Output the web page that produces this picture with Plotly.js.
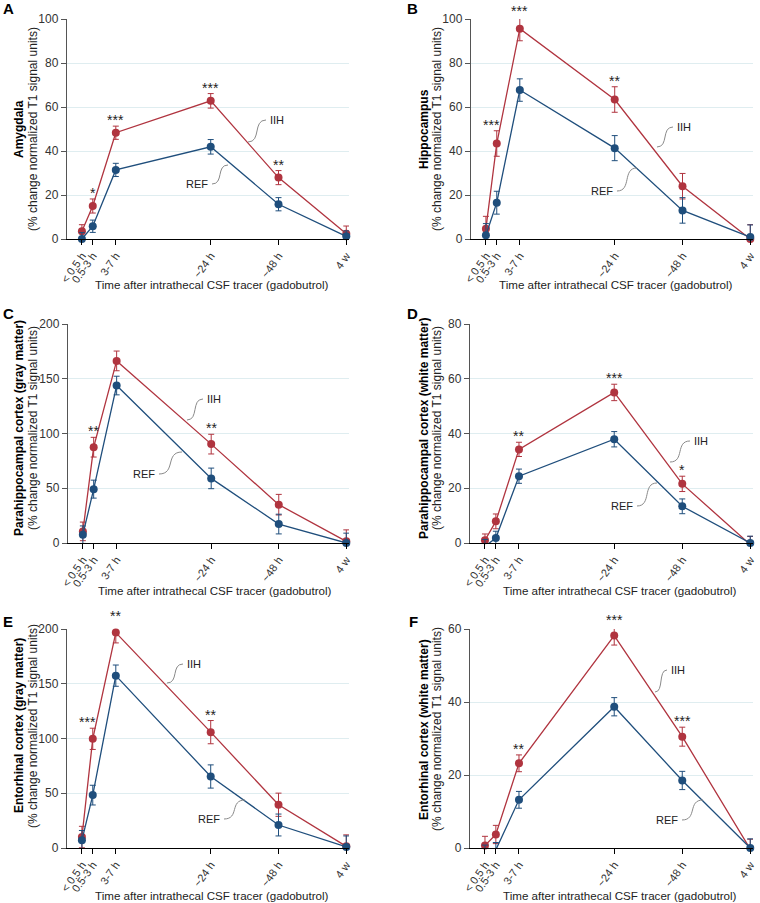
<!DOCTYPE html>
<html><head><meta charset="utf-8">
<script src="https://cdn.plot.ly/plotly-3.0.1.min.js"></script>
<style>html,body{margin:0;padding:0;background:#fff}#chart{width:760px;height:903px}</style>
</head><body><div id="chart"></div>
<script>
// ---- data ----
const timeLabels = ["< 0.5 h", "0.5-3 h", "3-7 h", "~24 h", "~48 h", "4 w"];
const timePos = [0, 0.16, 0.5, 1.9, 2.9, 3.9];
const xTitle = "Time after intrathecal CSF tracer (gadobutrol)";
const ySubTitle = "(% change normalized T1 signal units)";

const amygdalaIIH = [3.5, 15, 48.3, 62.8, 27.9, 2.4];
const amygdalaIIHErr = [3, 3.2, 3, 3.3, 3.2, 3.5];
const amygdalaREF = [0, 5.8, 31.4, 41.9, 15.8, 1.2];
const amygdalaREFErr = [2.9, 2.8, 3, 3.3, 3, 2.5];
const amygdalaStars = ["", "*", "***", "***", "**", ""];

const hippocampusIIH = [4.7, 43.4, 95.6, 63.4, 24, 0];
const hippocampusIIHErr = [5.6, 5.8, 5.5, 5.8, 5.8, 6.5];
const hippocampusREF = [1.7, 16.5, 67.7, 41.3, 13, 0.9];
const hippocampusREFErr = [5.3, 5.2, 5.1, 5.7, 5.8, 5.5];
const hippocampusStars = ["", "***", "***", "**", "", ""];

const phcGrayIIH = [10.6, 87.5, 166.3, 90.3, 35, 1.5];
const phcGrayIIHErr = [8.5, 9, 9, 9, 9.4, 10.5];
const phcGrayREF = [7.6, 49.2, 143.8, 59, 17.3, 0];
const phcGrayREFErr = [8, 8.2, 8.5, 9.4, 9, 9];
const phcGrayStars = ["", "**", "", "**", "", ""];

const phcWhiteIIH = [1, 7.9, 34.2, 55, 21.6, -0.6];
const phcWhiteIIHErr = [2.3, 2.7, 2.6, 3, 2.8, 3];
const phcWhiteREF = [-1.2, 1.8, 24.4, 37.9, 13.4, 0];
const phcWhiteREFErr = [2.5, 2.5, 2.6, 2.8, 2.7, 2.5];
const phcWhiteStars = ["", "", "**", "***", "*", ""];

const ercGrayIIH = [10, 99.7, 196.7, 105.8, 39.5, 1.5];
const ercGrayIIHErr = [9.8, 9.7, 9.4, 10.6, 10.6, 10.5];
const ercGrayREF = [7, 48.3, 157.4, 65.3, 21, 1];
const ercGrayREFErr = [9, 9, 9.7, 10.6, 10, 10];
const ercGrayStars = ["", "***", "**", "**", "", ""];

const ercWhiteIIH = [0.7, 3.7, 23.2, 58.2, 30.5, -0.3];
const ercWhiteIIHErr = [2.5, 2.5, 2.3, 2.6, 2.6, 2.7];
const ercWhiteREF = [-1.4, -0.5, 13.2, 38.7, 18.5, 0];
const ercWhiteREFErr = [2.2, 2, 2.3, 2.5, 2.5, 2.5];
const ercWhiteStars = ["", "", "**", "***", "***", ""];

// ---- layout config (pixels of the 760x903 page) ----
const W = 760, H = 903;
const px = x => x / W;
const py = y => 1 - y / H;
const RED = "#b0343f", BLUE = "#1f4e7c";
const XRANGE = [-0.22, 3.94];

const panels = [
  {letter: "A", name: "Amygdala", iih: amygdalaIIH, iihErr: amygdalaIIHErr, ref: amygdalaREF, refErr: amygdalaREFErr, stars: amygdalaStars,
   ymax: 100, dtick: 20, x0: 67, x1: 349, top: 19, bot: 239, letterXY: [8, 9], titleX: [19, 33], titleY: 129, xTitleXY: [212, 285],
   iihS: [248, 142], iihE: [266, 120], refS: [228, 165], refE: [212, 184]},
  {letter: "B", name: "Hippocampus", iih: hippocampusIIH, iihErr: hippocampusIIHErr, ref: hippocampusREF, refErr: hippocampusREFErr, stars: hippocampusStars,
   ymax: 100, dtick: 20, x0: 471, x1: 753, top: 19, bot: 239, letterXY: [412, 9], titleX: [424, 437], titleY: 129, xTitleXY: [616, 285],
   iihS: [657, 147], iihE: [673, 127], refS: [637, 168], refE: [617, 191]},
  {letter: "C", name: "Parahippocampal cortex (gray matter)", iih: phcGrayIIH, iihErr: phcGrayIIHErr, ref: phcGrayREF, refErr: phcGrayREFErr, stars: phcGrayStars,
   ymax: 200, dtick: 50, x0: 68, x1: 349, top: 324, bot: 543, letterXY: [8, 313], titleX: [19, 33], titleY: 428, xTitleXY: [215, 590],
   iihS: [187, 420], iihE: [203, 399], refS: [182, 452], refE: [159, 474]},
  {letter: "D", name: "Parahippocampal cortex (white matter)", iih: phcWhiteIIH, iihErr: phcWhiteIIHErr, ref: phcWhiteREF, refErr: phcWhiteREFErr, stars: phcWhiteStars,
   ymax: 80, dtick: 20, x0: 470, x1: 753, top: 324, bot: 543, letterXY: [412, 313], titleX: [424, 437], titleY: 428, xTitleXY: [620, 590],
   iihS: [670, 462], iihE: [690, 441], refS: [657, 483], refE: [637, 506]},
  {letter: "E", name: "Entorhinal cortex (gray matter)", iih: ercGrayIIH, iihErr: ercGrayIIHErr, ref: ercGrayREF, refErr: ercGrayREFErr, stars: ercGrayStars,
   ymax: 200, dtick: 50, x0: 67, x1: 349, top: 629, bot: 848, letterXY: [8, 621], titleX: [19, 33], titleY: 726, xTitleXY: [212, 895],
   iihS: [167, 683], iihE: [183, 664], refS: [245, 800], refE: [224, 819]},
  {letter: "F", name: "Entorhinal cortex (white matter)", iih: ercWhiteIIH, iihErr: ercWhiteIIHErr, ref: ercWhiteREF, refErr: ercWhiteREFErr, stars: ercWhiteStars,
   ymax: 60, dtick: 20, x0: 470, x1: 753, top: 629, bot: 848, letterXY: [413, 621], titleX: [424, 437], titleY: 729, xTitleXY: [620, 895],
   iihS: [655, 692], iihE: [667, 670], refS: [703, 800], refE: [682, 820]}
];

const FONT = "Liberation Sans, Arial, Helvetica, sans-serif";
const data = [];
const annotations = [];
const shapes = [];
const layout = {
  width: W, height: H,
  margin: {l: 0, r: 0, t: 0, b: 0},
  paper_bgcolor: "#fff", plot_bgcolor: "#fff",
  showlegend: false,
  font: {family: FONT, size: 12, color: "#333"},
  annotations: annotations, shapes: shapes
};

function squiggle(s, e) {
  const sign = e[0] >= s[0] ? 1 : -1;
  const k = Math.abs(e[0] - s[0]) * 0.75;
  const P = p => px(p[0]).toFixed(5) + "," + py(p[1]).toFixed(5);
  return "M" + P(s) + " C" + P([s[0] + sign * k, s[1]]) + " " + P([e[0] - sign * k, e[1]]) + " " + P(e);
}

panels.forEach((p, i) => {
  const n = i + 1;
  const xa = "x" + (n === 1 ? "" : n), ya = "y" + (n === 1 ? "" : n);
  const xk = "xaxis" + (n === 1 ? "" : n), yk = "yaxis" + (n === 1 ? "" : n);
  const xd = [px(p.x0), px(p.x1)], yd = [py(p.bot), py(p.top)];
  layout[xk] = {
    domain: xd, anchor: ya, range: XRANGE,
    tickmode: "array", tickvals: timePos, ticktext: timeLabels, tickangle: -55,
    ticks: "outside", ticklen: 5, tickwidth: 1, tickcolor: "#000",
    showline: true, linecolor: "#000", linewidth: 1.2,
    showgrid: false, zeroline: false,
    tickfont: {family: FONT, size: 11, color: "#333"}
  };
  layout[yk] = {
    domain: yd, anchor: xa, range: [0, p.ymax], dtick: p.dtick,
    ticks: "outside", ticklen: 5, tickwidth: 1, tickcolor: "#555",
    showline: true, linecolor: "#555", linewidth: 1.2,
    showgrid: true, gridcolor: "#dfedf0", gridwidth: 1, zeroline: false,
    tickfont: {family: FONT, size: 12, color: "#333"}
  };
  [["IIH", p.iih, p.iihErr, RED], ["REF", p.ref, p.refErr, BLUE]].forEach(([nm, y, err, c]) => {
    data.push({
      type: "scatter", mode: "lines+markers", name: nm, x: timePos, y: y,
      xaxis: xa, yaxis: ya, cliponaxis: false,
      line: {color: c, width: 1.3},
      marker: {color: c, size: 8},
      error_y: {type: "data", array: err, visible: true, color: c, thickness: 1, width: 3}
    });
  });
  // significance stars above IIH error bars (placed in the subplot's own frame)
  const toPx = v => xd[0] + (v - XRANGE[0]) / (XRANGE[1] - XRANGE[0]) * (xd[1] - xd[0]);
  const toPy = v => yd[0] + v / p.ymax * (yd[1] - yd[0]);
  p.stars.forEach((s, j) => {
    if (!s) return;
    annotations.push({
      xref: "paper", yref: "paper", x: toPx(timePos[j]), y: toPy(p.iih[j] + p.iihErr[j]),
      text: s, showarrow: false, yanchor: "bottom", xanchor: "center",
      yshift: -4, xshift: (j === 1 && s.length === 3) ? -5 : 0,
      font: {family: FONT, size: 14, color: "#222"}
    });
  });
  // panel letter
  annotations.push({xref: "paper", yref: "paper", x: px(p.letterXY[0]), y: py(p.letterXY[1]),
    text: "<b>" + p.letter + "</b>", showarrow: false, xanchor: "center", yanchor: "middle",
    font: {family: FONT, size: 15, color: "#000"}});
  // y titles
  annotations.push({xref: "paper", yref: "paper", x: px(p.titleX[0]), y: py(p.titleY),
    text: "<b>" + p.name + "</b>", textangle: -90, showarrow: false, xanchor: "center", yanchor: "middle",
    font: {family: FONT, size: 12, color: "#000"}});
  annotations.push({xref: "paper", yref: "paper", x: px(p.titleX[1]), y: py(p.titleY),
    text: ySubTitle, textangle: -90, showarrow: false, xanchor: "center", yanchor: "middle",
    font: {family: FONT, size: 12, color: "#222"}});
  // x title
  annotations.push({xref: "paper", yref: "paper", x: px(p.xTitleXY[0]), y: py(p.xTitleXY[1]),
    text: xTitle, showarrow: false, xanchor: "center", yanchor: "middle",
    font: {family: FONT, size: 11.6, color: "#222"}});
  // series labels with squiggle leaders
  annotations.push({xref: "paper", yref: "paper", x: px(p.iihE[0] + 2), y: py(p.iihE[1]),
    text: "IIH", showarrow: false, xanchor: "left", yanchor: "middle",
    font: {family: FONT, size: 11, color: "#222"}});
  annotations.push({xref: "paper", yref: "paper", x: px(p.refE[0] - 2), y: py(p.refE[1]),
    text: "REF", showarrow: false, xanchor: "right", yanchor: "middle",
    font: {family: FONT, size: 11, color: "#222"}});
  shapes.push({type: "path", xref: "paper", yref: "paper", path: squiggle(p.iihS, p.iihE), line: {color: "#8a8a8a", width: 1}});
  shapes.push({type: "path", xref: "paper", yref: "paper", path: squiggle(p.refS, p.refE), line: {color: "#8a8a8a", width: 1}});
});

Plotly.newPlot("chart", data, layout, {displayModeBar: false, staticPlot: true});
</script>
</body></html>
